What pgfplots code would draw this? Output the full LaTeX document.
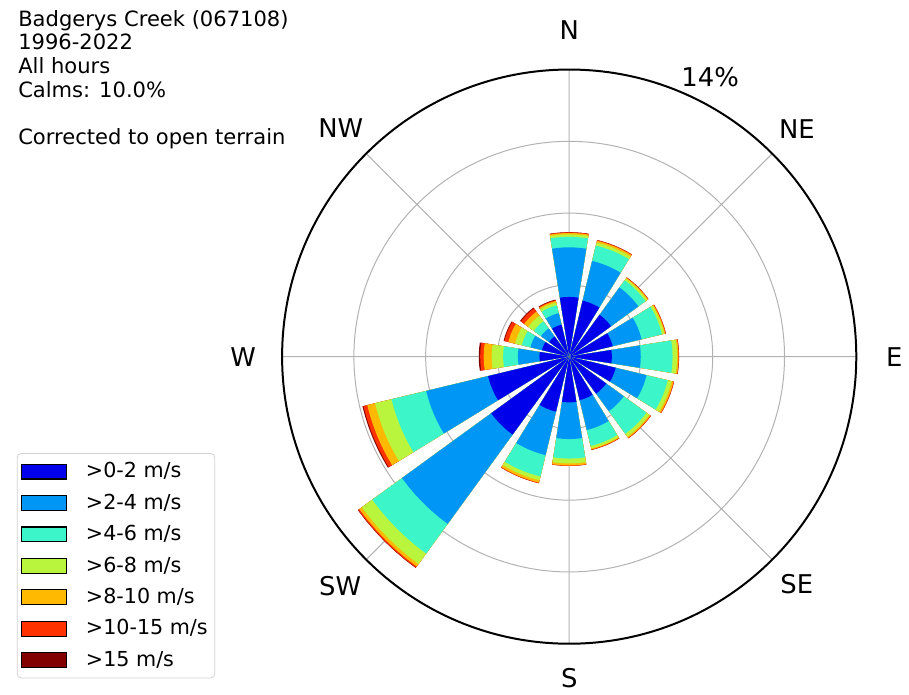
\documentclass[border=0pt]{standalone}
\usepackage{fontspec}
\setmainfont{DejaVu Sans}
\usepackage{pgfplots}
\pgfplotsset{compat=1.18}
\usepgfplotslibrary{polar}

\definecolor{c1}{RGB}{0,0,235}
\definecolor{c2}{RGB}{0,150,245}
\definecolor{c3}{RGB}{60,245,200}
\definecolor{c4}{RGB}{185,245,60}
\definecolor{c5}{RGB}{255,185,0}
\definecolor{c6}{RGB}{255,50,0}
\definecolor{c7}{RGB}{130,0,0}

% one speed band of a petal, filled as a wedge from the centre
\newcommand{\band}[3]{%
  \pgfmathsetmacro\pangA{90-#1-9}\pgfmathsetmacro\pangB{90-#1-6}%
  \pgfmathsetmacro\pangC{90-#1-3}\pgfmathsetmacro\pangD{90-#1}%
  \pgfmathsetmacro\pangE{90-#1+3}\pgfmathsetmacro\pangF{90-#1+6}%
  \pgfmathsetmacro\pangG{90-#1+9}%
  \addplot[fill=#3, draw=none, forget plot] coordinates
    {(0,0) (\pangA,#2) (\pangB,#2) (\pangC,#2) (\pangD,#2) (\pangE,#2) (\pangF,#2) (\pangG,#2) (0,0)};%
}
% petal: bearing, then cumulative % up to each speed class (>0-2 ... >15)
\newcommand{\petal}[8]{%
  \band{#1}{#8}{c7}\band{#1}{#7}{c6}\band{#1}{#6}{c5}\band{#1}{#5}{c4}%
  \band{#1}{#4}{c3}\band{#1}{#3}{c2}\band{#1}{#2}{c1}%
}

\begin{document}
\begin{tikzpicture}
\begin{polaraxis}[
  at={(0,0)}, anchor=center,
  scale only axis, width=289pt, height=289pt,
  xmin=0, xmax=360, ymin=0, ymax=14,
  xtick={0,45,...,315}, ytick={3.5,7,10.5,14},
  xticklabels={}, yticklabels={},
  grid=major,
  major grid style={draw=gray!60, line width=0.5pt},
  axis line style={black, line width=1pt},
  y axis line style={draw=none},
  major tick length=0pt,
  clip=false,
  legend cell align=left,
  legend image code/.code={\draw[#1, draw=black, line width=0.6pt, sharp corners] (0pt,-3.75pt) rectangle (22.5pt,3.75pt);},
  legend style={at={(-0.462,0.332)}, anchor=north west,
    draw=gray!35, rounded corners=2pt, fill=white,
    font=\fontsize{10.4}{12}\selectfont,
    inner xsep=2pt, inner ysep=3pt, row sep=3.6pt,
    nodes={inner sep=1.5pt},
    /tikz/every odd column/.append style={column sep=8pt}},
]
%      dir    0-2   2-4   4-6   6-8   8-10  10-15 >15
\petal{0}    {2.91}{5.33}{5.84}{5.96}{6.03}{6.06}{6.07}
\petal{22.5} {2.81}{4.80}{5.57}{5.72}{5.81}{5.84}{5.85}
\petal{45}   {2.52}{4.17}{4.60}{4.70}{4.75}{4.77}{4.78}
\petal{67.5} {2.18}{3.63}{4.65}{4.77}{4.82}{4.85}{4.85}
\petal{90}   {2.08}{3.49}{5.04}{5.26}{5.33}{5.35}{5.36}
\petal{112.5}{2.33}{3.88}{4.94}{5.14}{5.23}{5.26}{5.26}
\petal{135}  {2.23}{3.29}{4.65}{4.82}{4.89}{4.92}{4.92}
\petal{157.5}{2.18}{3.68}{4.48}{4.60}{4.65}{4.68}{4.68}
\petal{180}  {2.23}{4.02}{4.97}{5.21}{5.31}{5.33}{5.33}
\petal{202.5}{2.76}{4.94}{6.01}{6.20}{6.32}{6.35}{6.35}
\petal{225}  {4.70}{10.08}{11.87}{12.50}{12.65}{12.72}{12.74}
\petal{247.5}{4.07}{7.17}{8.91}{9.74}{10.13}{10.32}{10.37}
\petal{270}  {1.45}{2.50}{3.22}{3.78}{4.17}{4.34}{4.41}
\petal{292.5}{1.36}{1.94}{2.37}{2.71}{3.05}{3.25}{3.29}
\petal{315}  {1.21}{1.70}{2.13}{2.47}{2.71}{2.91}{2.96}
\petal{337.5}{1.60}{2.18}{2.57}{2.71}{2.79}{2.83}{2.86}

\addlegendimage{fill=c1}\addlegendentry{>0-2 m/s}
\addlegendimage{fill=c2}\addlegendentry{>2-4 m/s}
\addlegendimage{fill=c3}\addlegendentry{>4-6 m/s}
\addlegendimage{fill=c4}\addlegendentry{>6-8 m/s}
\addlegendimage{fill=c5}\addlegendentry{>8-10 m/s}
\addlegendimage{fill=c6}\addlegendentry{>10-15 m/s}
\addlegendimage{fill=c7}\addlegendentry{>15 m/s}

\node[font=\fontsize{13}{15}\selectfont] at (axis cs:90,15.9) {N};
\node[font=\fontsize{13}{15}\selectfont] at (axis cs:45,15.7) {NE};
\node[font=\fontsize{13}{15}\selectfont] at (axis cs:0,15.85) {E};
\node[font=\fontsize{13}{15}\selectfont] at (axis cs:-45,15.7) {SE};
\node[font=\fontsize{13}{15}\selectfont] at (axis cs:-90,15.7) {S};
\node[font=\fontsize{13}{15}\selectfont] at (axis cs:225,15.8) {SW};
\node[font=\fontsize{13}{15}\selectfont] at (axis cs:180,15.9) {W};
\node[font=\fontsize{13}{15}\selectfont] at (axis cs:135,15.75) {NW};
\node[font=\fontsize{13}{15}\selectfont] at (axis cs:63.2,15.25) {14\%};
\end{polaraxis}

\path[use as bounding box] (-286.5pt,-169.5pt) rectangle (168pt,179.5pt);
\begin{scope}[every node/.style={anchor=base west, inner sep=0pt, font=\fontsize{10.6}{12}\selectfont}]
\node at (-277.5pt,166.3pt) {Badgerys Creek (067108)};
\node at (-277.5pt,154.5pt) {1996-2022};
\node at (-277.5pt,142.5pt) {All hours};
\node at (-277.5pt,130.4pt) {Calms: 10.0\%};
\node at (-277.5pt,106.7pt) {Corrected to open terrain};
\end{scope}
\end{tikzpicture}
\end{document}
